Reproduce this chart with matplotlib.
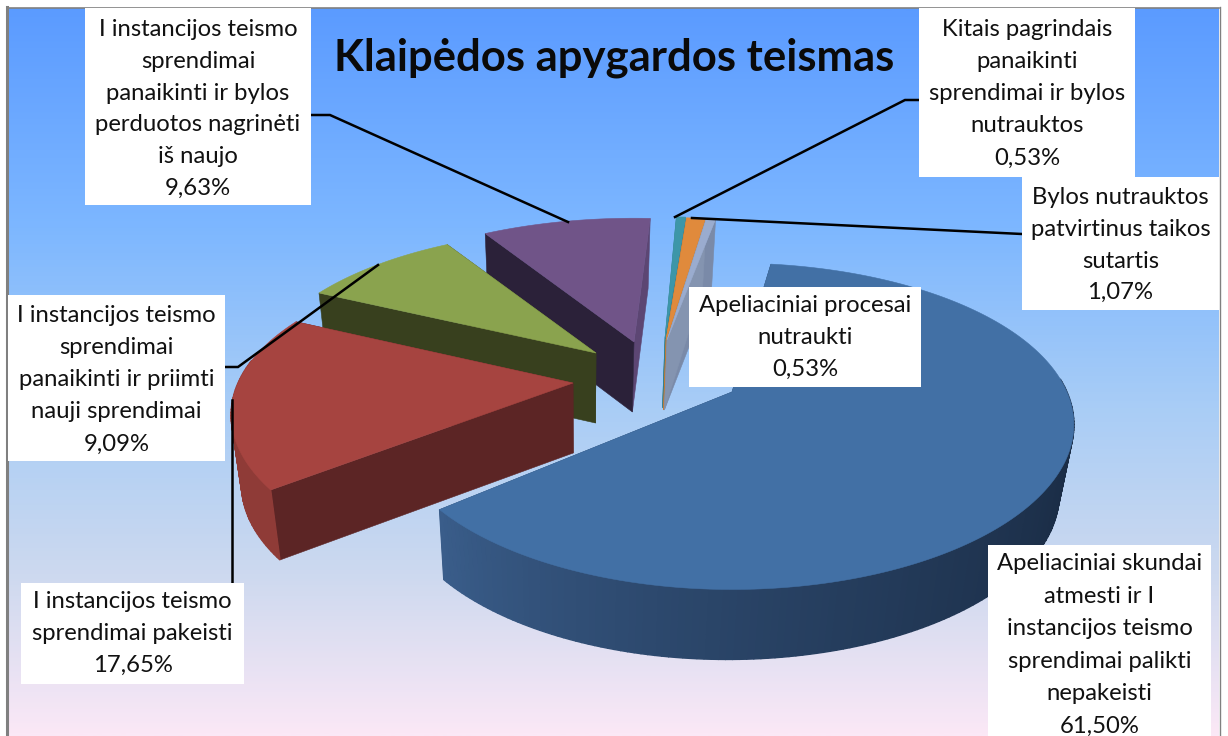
"""Exploded 3D pie of appeal outcomes, Klaipeda regional court."""

import numpy as np
import matplotlib
matplotlib.use('Agg')
import matplotlib.pyplot as plt
from matplotlib.colors import LinearSegmentedColormap, to_rgb
from matplotlib.patches import Polygon, Rectangle

plt.rcParams['font.family'] = ['Lato', 'DejaVu Sans']

# Data, clockwise starting at the big slice
categories = [
    'Apeliaciniai skundai\natmesti ir I\ninstancijos teismo\nsprendimai palikti\nnepakeisti',
    'I instancijos teismo\nsprendimai pakeisti',
    'I instancijos teismo\nsprendimai\npanaikinti ir priimti\nnauji sprendimai',
    'I instancijos teismo\nsprendimai\npanaikinti ir bylos\nperduotos nagrinėti\niš naujo',
    'Kitais pagrindais\npanaikinti\nsprendimai ir bylos\nnutrauktos',
    'Bylos nutrauktos\npatvirtinus taikos\nsutartis',
    'Apeliaciniai procesai\nnutraukti',
]
values = [61.50, 17.65, 9.09, 9.63, 0.53, 1.07, 0.53]
title = 'Klaipėdos apygardos teismas'

# Slice styling
top_colors = ['#4270a5', '#a64440', '#8aa34e', '#705488', '#3d96a8', '#e08a3c', '#9aaccf']
arc_colors = [('#3b5f8d', '#1a2c45'), ('#8f3b37', '#8f3b37'), ('#38401e', '#38401e'),
              ('#5c4673', '#5c4673'), ('#2f7a8a', '#2f7a8a'), ('#b8722f', '#b8722f'),
              ('#7a8aa8', '#7a8aa8')]
start_face = ['#2b4a70', '#5c2525', '#38401e', '#2b2139', '#33808f', '#c47a33', '#8494b0']
end_face = ['#2b4a70', '#5c2525', '#38401e', '#5c4673', '#33808f', '#c47a33', '#7a8aa8']
apex_x = [732, 573, 596, 634, 665, 666, 667]
apex_y = [392, 383, 353, 342, 338, 340, 340]
angle_nudge = [-3, 0, 0, 0, -1, -1, -1]
ry_scale = [1.0, 0.98, 0.96, 0.96, 0.94, 0.95, 0.95]
draw_order = [4, 5, 6, 3, 2, 1, 0]

# Label boxes: left, right, top, bottom, then first line centre and line step
box_left = [988, 21, 8, 85, 919, 1022, 689]
box_right = [1211, 244, 225, 311, 1135, 1219, 921]
box_top = [545, 583, 295, 8, 8, 177, 287]
box_bottom = [736, 684, 461, 205, 177, 310, 387]
first_line = [564, 602, 316, 30, 30, 198, 306]
line_step = [32.4, 31.5, 32, 31.6, 32, 31.5, 31.5]

leader_x = [[311, 330, 568], [919, 905, 675], [1022, 692], [225, 238, 378], [232, 232]]
leader_y = [[115, 115, 222], [100, 100, 217], [234, 218], [367, 367, 265], [583, 400]]

RX, RY, KX, KY, DEPTH = 335, 156, 0.2, 0.21, 70
START = 11.0


def project(ax0, ay0, theta, ry, drop=0.0):
    s = np.sin(theta)
    c = np.cos(theta)
    x = ax0 + RX * s / (1 + KX * c)
    y = ay0 - RY * ry * c / (1 + KY * c)
    if drop:
        x = x + 0.03 * (580 - x)
        y = y + drop
    return x, y


fig = plt.figure(figsize=(12.28, 7.36), dpi=100)
ax = fig.add_axes([0, 0, 1, 1])
ax.set_xlim(0, 1228)
ax.set_ylim(736, 0)
ax.axis('off')

# Background gradient and frame
bg = LinearSegmentedColormap.from_list('bg', [
    (0.0, '#5b9bff'), (0.3, '#7db7ff'), (0.55, '#a9cdf6'),
    (0.78, '#cdd9ef'), (1.0, '#fbe8f6')])
ax.imshow(np.linspace(0, 1, 400)[:, None], cmap=bg, aspect='auto',
          extent=[8, 1219, 736, 8], zorder=0)
ax.set_xlim(0, 1228)
ax.set_ylim(736, 0)
ax.plot([7, 7], [7, 736], color='#808080', lw=2.2, zorder=1)
ax.plot([7, 1219], [7.5, 7.5], color='#808080', lw=1.2, zorder=1)
ax.plot([1219.5, 1219.5], [7, 736], color='#808080', lw=1, zorder=1)

# Slices
angles = np.cumsum([0] + values) / sum(values) * 360 + START
zo = 2
for i in draw_order:
    t0 = np.radians(angles[i] + angle_nudge[i])
    t1 = np.radians(angles[i + 1] + angle_nudge[i])
    ts = np.linspace(t0, t1, max(int(np.degrees(t1 - t0)), 2) + 1)
    x0, y0 = apex_x[i], apex_y[i]
    ry = ry_scale[i]
    bx = x0 + 0.03 * (580 - x0)
    by = y0 + DEPTH

    # radial faces first, the top covers the hidden ones
    for t, col in ((t1, end_face[i]), (t0, start_face[i])):
        ox, oy = project(x0, y0, t, ry)
        qx, qy = project(x0, y0, t, ry, DEPTH)
        ax.add_patch(Polygon([(x0, y0), (ox, oy), (qx, qy), (bx, by)], closed=True,
                             fc=col, ec=col, lw=0.4, zorder=zo))
        zo += 1

    # outer wall as thin strips, only the front half is ever visible
    c_dark, c_light = np.array(to_rgb(arc_colors[i][1])), np.array(to_rgb(arc_colors[i][0]))
    for a, b in zip(ts[:-1], ts[1:]):
        deg = np.degrees(a) % 360
        if deg < 85 or deg > 278:
            continue
        f = np.clip((deg - 100) / 132, 0, 1) ** 1.5
        pts = [project(x0, y0, a, ry), project(x0, y0, b, ry),
               project(x0, y0, b, ry, DEPTH), project(x0, y0, a, ry, DEPTH)]
        col = c_dark + (c_light - c_dark) * f
        ax.add_patch(Polygon(pts, closed=True, fc=col, ec=col, lw=1.0, zorder=zo))
    zo += 1

    xs, ys = project(x0, y0, ts, ry)
    top = np.column_stack([np.r_[x0, xs], np.r_[y0, ys]])
    ax.add_patch(Polygon(top, closed=True, fc=top_colors[i], ec=top_colors[i], lw=0.4, zorder=zo))
    zo += 1

# Leader lines
for lx, ly in zip(leader_x, leader_y):
    ax.plot(lx, ly, color='black', lw=1.8, zorder=200, solid_joinstyle='miter')

# Label boxes
for i, cat in enumerate(categories):
    ax.add_patch(Rectangle((box_left[i], box_top[i]), box_right[i] - box_left[i],
                           box_bottom[i] - box_top[i], fc='white', ec='none', zorder=210))
    lines = cat.split('\n') + [f'{values[i]:.2f}'.replace('.', ',') + '%']
    cx = (box_left[i] + box_right[i]) / 2
    for j, line in enumerate(lines):
        ax.text(cx, first_line[i] + j * line_step[i], line, ha='center', va='center',
                fontsize=17.2, color='#111111', zorder=220)

ax.text(614, 58, title, ha='center', va='center', fontsize=31.4, fontweight='bold',
        color='#0a0a0a', zorder=220)

fig.savefig('out.png', dpi=100)
